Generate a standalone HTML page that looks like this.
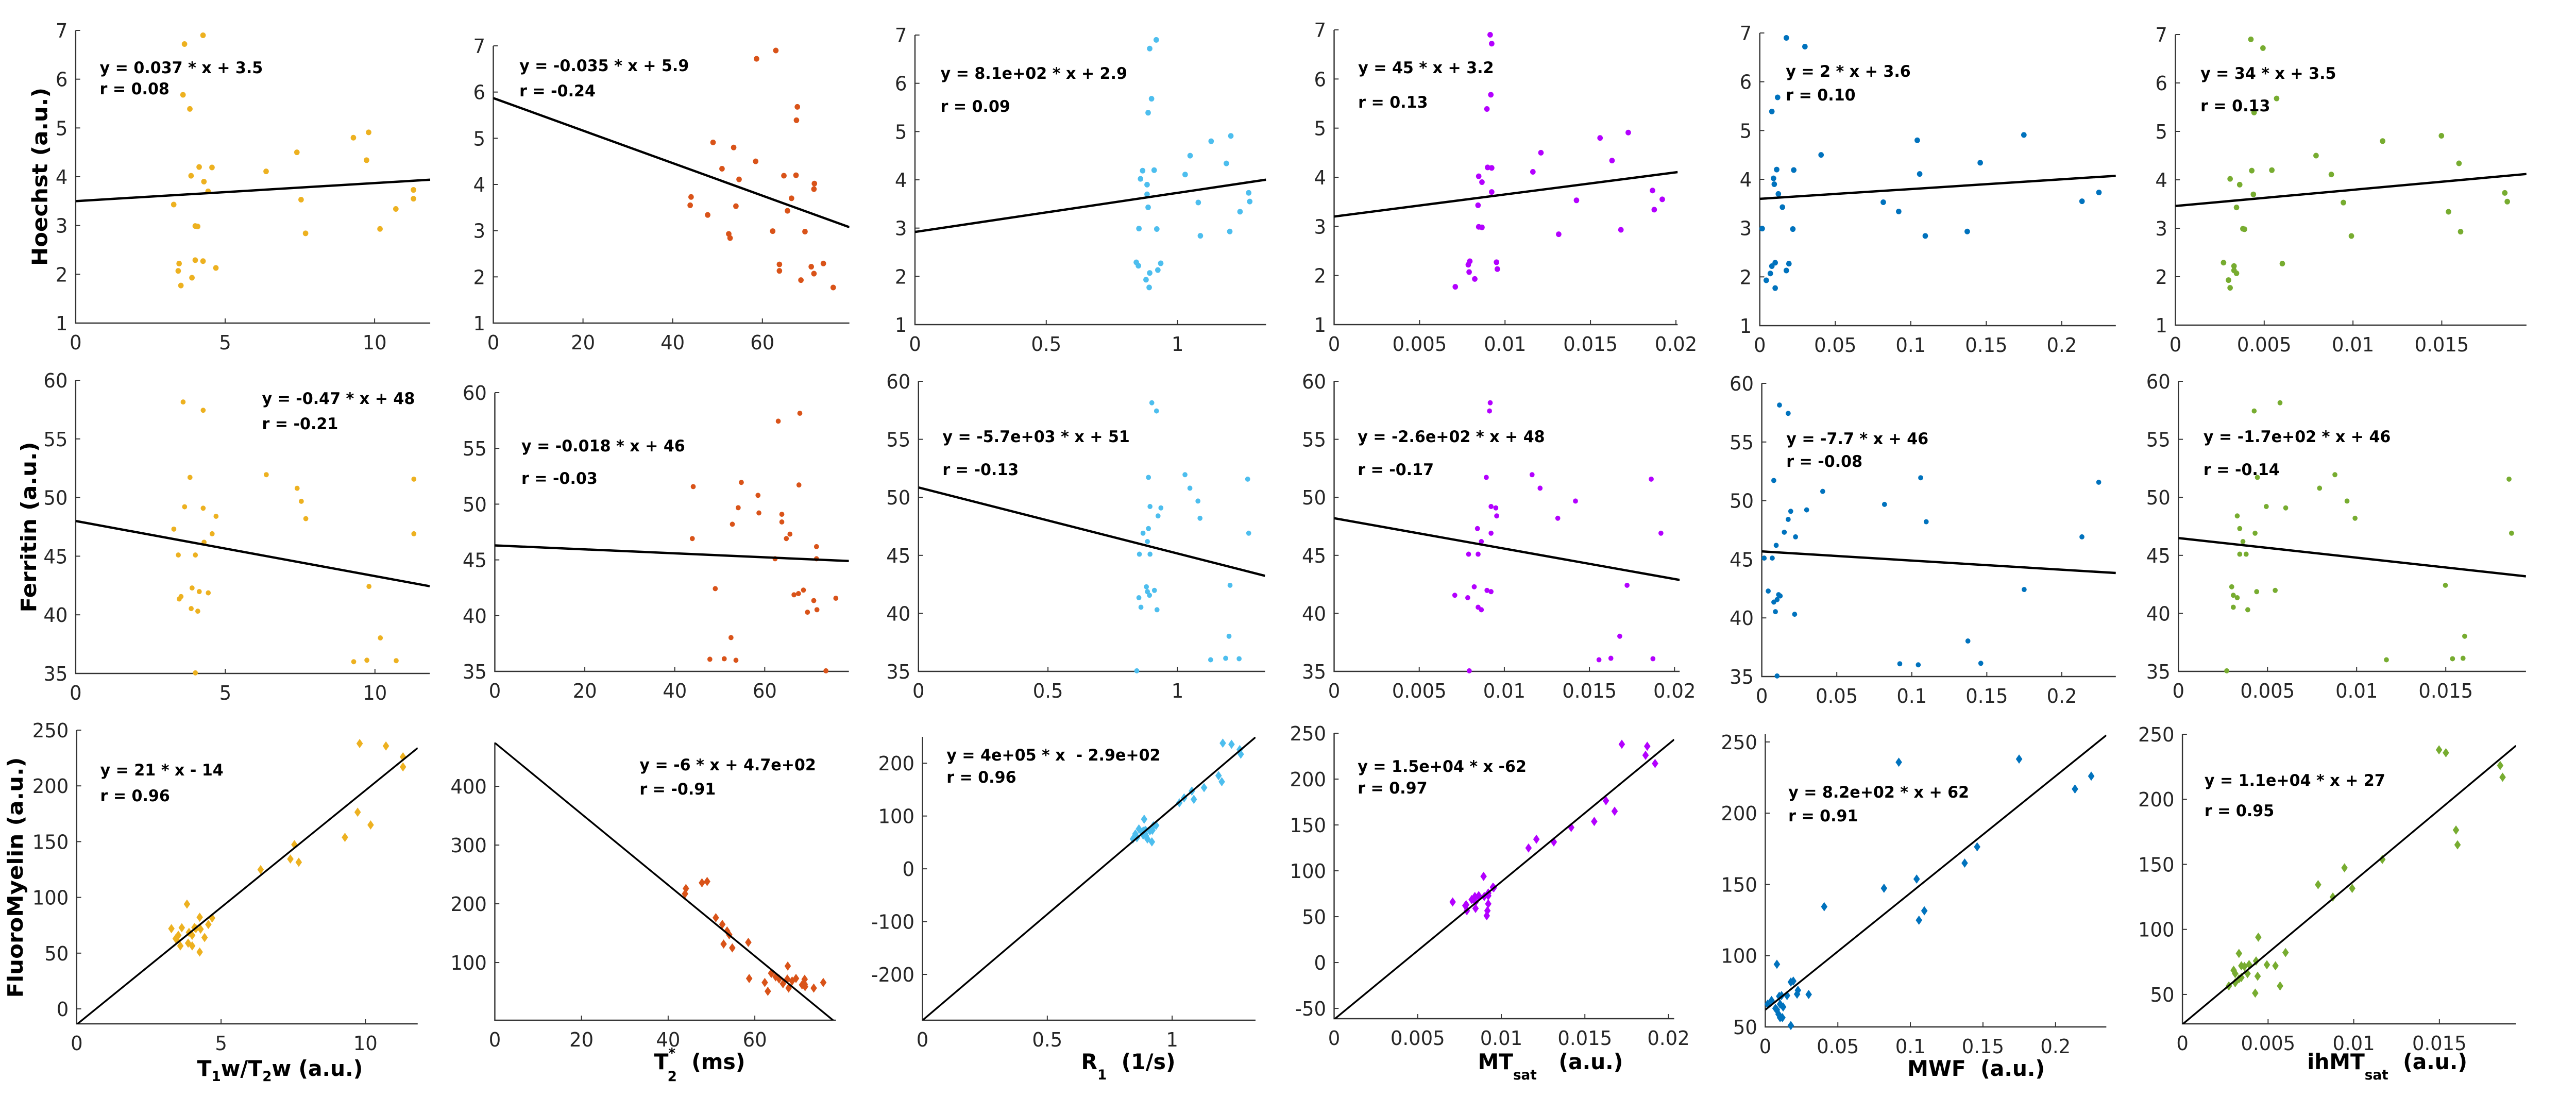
<!DOCTYPE html>
<html><head><meta charset="utf-8"><title>MRI vs histology scatter grid</title>
<style>
html,body{margin:0;padding:0;background:#fff;}
svg{display:block;}
text{font-family:"DejaVu Sans","Liberation Sans",sans-serif;white-space:pre;}
.tick{font-size:38px;fill:#262626;}
.eq{font-size:31px;font-weight:bold;fill:#000;}
.ttl{font-size:42px;font-weight:bold;fill:#000;}
</style></head>
<body>
<svg id="fig" width="5126" height="2129" viewBox="0 0 5126 2129" xmlns="http://www.w3.org/2000/svg">
<rect width="5126" height="2129" fill="#fff"/>
<g id="root" transform="matrix(0.972,0,0,1,4,0)">
<text class="ttl" transform="translate(90,343) rotate(-90)" text-anchor="middle" textLength="346" lengthAdjust="spacingAndGlyphs">Hoechst (a.u.)</text>
<text class="ttl" transform="translate(68,1023) rotate(-90)" text-anchor="middle" textLength="331" lengthAdjust="spacingAndGlyphs">Ferritin (a.u.)</text>
<text class="ttl" transform="translate(41,1703) rotate(-90)" text-anchor="middle" textLength="467" lengthAdjust="spacingAndGlyphs">FluoroMyelin (a.u.)</text>
<text class="ttl" x="555" y="2088" text-anchor="middle">T<tspan font-size="27" dy="10">1</tspan><tspan dy="-10">w/T</tspan><tspan font-size="27" dy="10">2</tspan><tspan dy="-10">w (a.u.)</tspan></text>
<text class="ttl" x="1393" y="2075" text-anchor="middle">T<tspan font-size="27" dy="-22">*</tspan><tspan font-size="27" dx="-16" dy="45">2</tspan><tspan dy="-23">  (ms)</tspan></text>
<text class="ttl" x="2249" y="2075" text-anchor="middle">R<tspan font-size="27" dy="20">1</tspan><tspan dy="-20">  (1/s)</tspan></text>
<text class="ttl" x="3092" y="2075" text-anchor="middle">MT<tspan font-size="27" dy="20">sat</tspan><tspan dy="-20">   (a.u.)</tspan></text>
<text class="ttl" x="3942" y="2088" text-anchor="middle">MWF  (a.u.)</text>
<text class="ttl" x="4763" y="2075" text-anchor="middle">ihMT<tspan font-size="27" dy="20">sat</tspan><tspan dy="-20">  (a.u.)</tspan></text>
</g>
</svg>
<script>
// ---- data (subjects in a fixed order, shared across panels) ----
const t1t2 = [4.26,3.64,3.59,3.82,9.80,9.29,7.40,9.73,4.13,4.56,6.37,3.86,4.29,11.30,4.43,11.30,7.54,3.28,10.71,4.00,4.08,10.18,7.69,4.00,4.26,3.46,4.69,3.43,3.89,3.52];
const t2star = [63.0,58.7,67.8,67.6,49.0,53.6,58.5,51.0,67.5,64.8,54.8,71.6,71.5,44.1,66.5,43.9,54.1,65.6,47.8,62.3,69.5,52.5,52.8,73.6,63.8,70.9,63.8,71.5,68.6,75.8];
const r1 = [0.919,0.894,0.901,0.888,1.203,1.128,1.048,1.186,0.911,0.867,1.029,0.859,0.884,1.271,0.884,1.275,1.079,0.888,1.238,0.853,0.921,1.199,1.087,0.843,0.936,0.851,0.925,0.894,0.880,0.892];
const mtsat = [0.00913,0.00922,0.00917,0.00894,0.01721,0.01556,0.01210,0.01626,0.00898,0.00922,0.01163,0.00846,0.00865,0.01863,0.00922,0.01920,0.01418,0.00842,0.01873,0.00846,0.00865,0.01678,0.01314,0.00794,0.00950,0.00785,0.00955,0.00790,0.00823,0.00709];
const mwf = [0.0176,0.0299,0.0118,0.0080,0.1749,0.1043,0.0406,0.1460,0.0112,0.0225,0.1059,0.0091,0.0096,0.2246,0.0123,0.2134,0.0818,0.0150,0.0920,0.0016,0.0219,0.1374,0.1096,0.0102,0.0193,0.0080,0.0176,0.0070,0.0043,0.0102];
const ihmt = [0.00425,0.00493,0.00570,0.00443,0.01498,0.01167,0.00792,0.01597,0.00543,0.00430,0.00878,0.00308,0.00362,0.01855,0.00439,0.01869,0.00946,0.00344,0.01538,0.00380,0.00389,0.01606,0.00991,0.00271,0.00602,0.00330,0.00330,0.00344,0.00299,0.00308];
const hoechst = [6.90,6.72,5.68,5.39,4.91,4.80,4.50,4.34,4.20,4.19,4.11,4.02,3.90,3.73,3.70,3.55,3.53,3.43,3.34,2.99,2.98,2.93,2.84,2.29,2.27,2.22,2.13,2.07,1.93,1.77];
const ferritin = [57.44,49.21,58.15,51.72,42.42,36.00,50.79,36.13,41.98,46.91,51.95,40.53,46.19,51.57,41.87,46.91,49.68,47.31,36.09,45.10,40.31,38.03,48.20,35.05,49.09,41.35,48.40,45.10,42.29,41.56];
const fluoromyelin = [51,72.8,56.5,94,238,153.8,134.4,176.4,72,75.7,124.9,59,71.5,226,64,217,147.3,72,235.8,66,73,165,131.5,56.5,82.2,62,81.5,63,68.6,66];

// fitted line coefficients per panel (row-major)
const slopes = [0.037,-0.0352,0.81,45,2,33.4, -0.47,-0.0178,-5.69,-262,-7.8,-169, 21,-6.05,402,15000,820,11000];
const intercepts = [3.5,5.87,2.92,3.2,3.6,3.46, 48,46.3,50.85,48.2,45.67,46.49, -14,474,-287,-62,62,27];
const eqTexts = ["y = 0.037 * x + 3.5","y = -0.035 * x + 5.9","y = 8.1e+02 * x + 2.9","y = 45 * x + 3.2","y = 2 * x + 3.6","y = 34 * x + 3.5",
 "y = -0.47 * x + 48","y = -0.018 * x + 46","y = -5.7e+03 * x + 51","y = -2.6e+02 * x + 48","y = -7.7 * x + 46","y = -1.7e+02 * x + 46",
 "y = 21 * x - 14","y = -6 * x + 4.7e+02","y = 4e+05 * x  - 2.9e+02","y = 1.5e+04 * x -62","y = 8.2e+02 * x + 62","y = 1.1e+04 * x + 27"];
const rTexts = ["r = 0.08","r = -0.24","r = 0.09","r = 0.13","r = 0.10","r = 0.13",
 "r = -0.21","r = -0.03","r = -0.13","r = -0.17","r = -0.08","r = -0.14",
 "r = 0.96","r = -0.91","r = 0.96","r = 0.97","r = 0.91","r = 0.95"];

// tick labels
const xTicksCol = [["0","5","10"],["0","20","40","60"],["0","0.5","1"],["0","0.005","0.01","0.015","0.02"],["0","0.05","0.1","0.15","0.2"],["0","0.005","0.01","0.015"]];
const yTicksRow1 = ["1","2","3","4","5","6","7"];
const yTicksRow2 = ["35","40","45","50","55","60"];
const yTicksRow3 = [["0","50","100","150","200","250"],["100","200","300","400"],["-200","-100","0","100","200"],["-50","0","50","100","150","200","250"],["50","100","150","200","250"],["50","100","150","200","250"]];

const xSeries = [t1t2,t2star,r1,mtsat,mwf,ihmt];
const ySeries = [hoechst,ferritin,fluoromyelin];
const colors = ["#EDB120","#D95319","#4DBEEE","#B300FF","#0072BD","#77AC30"];
const xNames = ["t1w-t2w","t2star","r1","mtsat","mwf","ihmtsat"];
const yNames = ["hoechst","ferritin","fluoromyelin"];

// layout: plot boxes [x0,x1,yTop,yBottom], domains, equation anchors
const layout = [
 {b:[147,855,59,627],xd:[0,11.86],yd:[1,7],e:[195,142,183]},
 {b:[981,1692,89,627],xd:[0,79.4],yd:[1,7],e:[1033,138,187]},
 {b:[1823,2524,68,630],xd:[0,1.337],yd:[1,7],e:[1874,153,217]},
 {b:[2660,3346,58,630],xd:[0,0.0201],yd:[1,7],e:[2708,142,209]},
 {b:[3510,4221,64,632],xd:[0,0.2358],yd:[1,7],e:[3562,149,195]},
 {b:[4340,5041,67,631],xd:[0,0.01977],yd:[1,7],e:[4390,153,216]},
 {b:[147,854,738,1307],xd:[0,11.83],yd:[35,60],e:[519,784,833]},
 {b:[984,1691,762,1303],xd:[0,78.7],yd:[35,60],e:[1037,876,939]},
 {b:[1830,2522,740,1303],xd:[0,1.338],yd:[35,60],e:[1878,858,922]},
 {b:[2660,3350,740,1303],xd:[0,0.0203],yd:[35,60],e:[2707,858,922]},
 {b:[3514,4221,744,1313],xd:[0,0.236],yd:[35,60],e:[3563,862,906]},
 {b:[4346,5040,740,1303],xd:[0,0.0195],yd:[35,60],e:[4396,858,922]},
 {b:[149,830,1417,1987],xd:[0,11.81],yd:[-13.4,250],e:[196,1505,1555]},
 {b:[984,1665,1441,1980],xd:[0,78.7],yd:[1.8,474.6],e:[1273,1495,1542]},
 {b:[1838,2503,1430,1980],xd:[0,1.334],yd:[-286.8,250],e:[1886,1476,1519]},
 {b:[2660,3339,1423,1977],xd:[0,0.02034],yd:[-61.2,250],e:[2707,1498,1540]},
 {b:[3521,4202,1425,1993],xd:[0,0.235],yd:[50,255.4],e:[3567,1548,1594]},
 {b:[4354,5020,1425,1987],xd:[0,0.01947],yd:[27.4,250],e:[4398,1525,1584]}
];

const NS = "http://www.w3.org/2000/svg";
const root = document.getElementById("root");
function mk(tag, attrs, parent){
  const el = document.createElementNS(NS, tag);
  for (const k in attrs) el.setAttribute(k, attrs[k]);
  (parent||root).appendChild(el);
  return el;
}

layout.forEach(function(L, i){
  const row = Math.floor(i/6), col = i%6;
  const [x0,x1,yT,yB] = L.b;
  const sx = v => x0 + (v - L.xd[0]) / (L.xd[1]-L.xd[0]) * (x1-x0);
  const sy = v => yB - (v - L.yd[0]) / (L.yd[1]-L.yd[0]) * (yB-yT);
  const g = mk("g", {});
  
  

  const cp = mk("clipPath", {id:"clip"+i}, g);
  mk("rect", {x:x0, y:yT, width:x1-x0, height:yB-yT}, cp);

  const ax = mk("path", {d:"M"+x0+","+yT+" L"+x0+","+yB+" L"+x1+","+yB, fill:"none", stroke:"#333", "stroke-width":2.5}, g);
  
  

  xTicksCol[col].forEach(function(t){
    const v = parseFloat(t), px = sx(v);
    mk("line", {x1:px, x2:px, y1:yB, y2:yB-9, stroke:"#333", "stroke-width":2}, g);
    const tx = mk("text", {x:px, y:yB+51, "text-anchor":"middle", class:"tick"}, g);
    
    
    tx.textContent = t;
  });
  const yt = row===0 ? yTicksRow1 : (row===1 ? yTicksRow2 : yTicksRow3[col]);
  yt.forEach(function(t){
    const v = parseFloat(t), py = sy(v);
    mk("line", {x1:x0, x2:x0+9, y1:py, y2:py, stroke:"#333", "stroke-width":2}, g);
    const tx = mk("text", {x:x0-16, y:py+14, "text-anchor":"end", class:"tick"}, g);
    
    
    tx.textContent = t;
  });

  const xs = xSeries[col], ys = ySeries[row];
  for (let k=0; k<xs.length; k++){
    const px = sx(xs[k]), py = sy(ys[k]);
    let m;
    if (row < 2){
      m = mk("ellipse", {cx:px, cy:py, rx: row===0?5.5:5, ry: row===0?5.5:5, fill:colors[col]}, g);
    } else {
      m = mk("path", {d:"M"+px+","+(py-9)+" L"+(px+6.5)+","+py+" L"+px+","+(py+9)+" L"+(px-6.5)+","+py+" Z", fill:colors[col]}, g);
    }
    
    
  }

  const fx0 = L.xd[0], fx1 = L.xd[1];
  const ln = mk("line", {x1:sx(fx0), y1:sy(slopes[i]*fx0+intercepts[i]), x2:sx(fx1), y2:sy(slopes[i]*fx1+intercepts[i]),
    stroke:"#000", "stroke-width": row===2?3.5:4.5, "clip-path":"url(#clip"+i+")"}, g);
  
  

  const e1 = mk("text", {x:L.e[0], y:L.e[1], class:"eq"}, g);
  
  
  e1.textContent = eqTexts[i];
  const e2 = mk("text", {x:L.e[0], y:L.e[2], class:"eq"}, g);
  
  
  e2.textContent = rTexts[i];
});
</script>
</body></html>
